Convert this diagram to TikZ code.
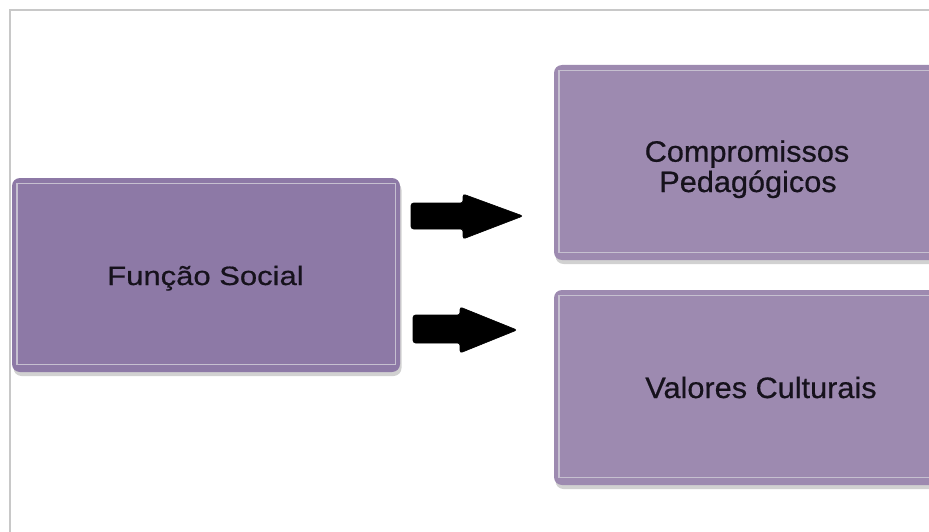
\documentclass[tikz,border=0pt]{standalone}
\usepackage{fontspec}
\setmainfont{Liberation Sans}
\newfontfamily\lefttextfont[FakeStretch=1.17,FakeBold=0.6]{Liberation Sans}
\newfontfamily\righttextfont[FakeStretch=1.04,FakeBold=0.6]{Liberation Sans}
\usetikzlibrary{shadows}

\definecolor{framegray}{RGB}{200,200,200}
\definecolor{mainfill}{RGB}{141,121,166}
\definecolor{sidefill}{RGB}{157,138,176}
\definecolor{innerline}{RGB}{198,192,208}
\definecolor{labelink}{RGB}{22,18,28}

\tikzset{
  card/.style={draw=none, rounded corners=8pt, inner sep=0pt,
    drop shadow={shadow xshift=1.5pt, shadow yshift=-4pt, fill=black!40, opacity=.45}},
  mainbox/.style={card, fill=mainfill},
  sidebox/.style={card, fill=sidefill},
  trim/.style={draw=innerline, line width=1.4pt},
  mainlabel/.style={anchor=base, inner sep=0pt, text=labelink,
    font=\lefttextfont\fontsize{26.5pt}{31pt}\selectfont},
  sidelabel/.style={anchor=base, inner sep=0pt, text=labelink,
    font=\righttextfont\fontsize{29.5pt}{31pt}\selectfont},
  blockarrow/.style={fill=black, draw=black, line width=0.6pt, rounded corners=2.5pt}
}

\begin{document}
\begin{tikzpicture}[x=1pt, y=-1pt]
\useasboundingbox (0,0) rectangle (929,532);
\clip (0,0) rectangle (929,532);
\fill[white] (0,0) rectangle (929,532);

% outer frame
\draw[framegray, line width=1.6pt] (10,540) -- (10,10) -- (940,10);

% boxes
\node[mainbox, minimum width=388pt, minimum height=194pt] (social) at (206,275) {};
\node[sidebox, minimum width=386pt, minimum height=195pt] (pedag) at (747,162.5) {};
\node[sidebox, minimum width=414pt, minimum height=195pt] (cultur) at (761,387.5) {};

% light inner trim of each box
\foreach \b in {social,pedag,cultur}{
  \draw[trim] ([shift={(5pt,-5.5pt)}]\b.north west) rectangle ([shift={(-5pt,8pt)}]\b.south east);
}

% labels
\node[mainlabel] (socialtxt) at (205.5,285) {Função Social};
\node[sidelabel] (pedagtxt1) at (747,161.7) {Compromissos};
\node[sidelabel] (pedagtxt2) at (748,192) {Pedagógicos};
\node[sidelabel] (culturtxt) at (761,398) {Valores Culturais};

% block arrows
\fill[blockarrow] (411,203) -- (463,203) -- (463,194) -- (523,216)
  -- (463,239) -- (463,229) -- (411,229) -- cycle;
\fill[blockarrow] (413,315) -- (460,315) -- (460,307) -- (517,330)
  -- (460,353) -- (460,343) -- (413,343) -- cycle;
\end{tikzpicture}
\end{document}
